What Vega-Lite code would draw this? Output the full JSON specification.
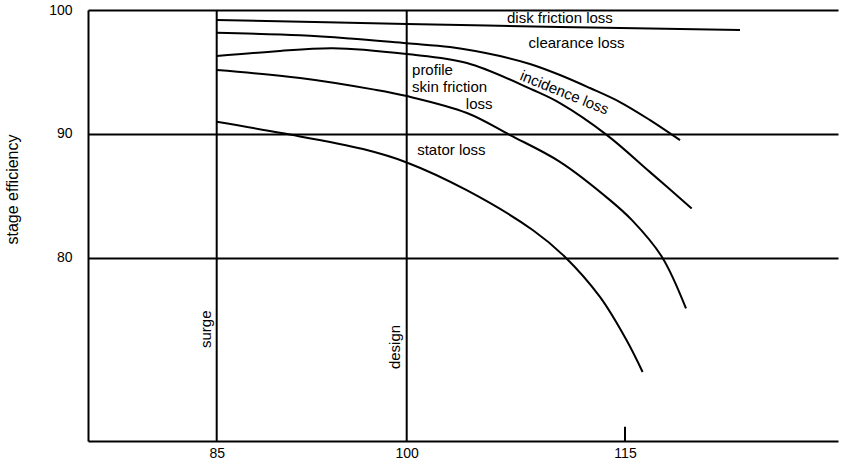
{
  "$schema": "https://vega.github.io/schema/vega-lite/v6.json",
  "width": 750,
  "height": 431,
  "autosize": {"type": "none"},
  "padding": {"left": 88, "top": 10, "right": 5, "bottom": 25},
  "background": "white",
  "config": {
    "view": {"stroke": null},
    "font": "Liberation Sans",
    "text": {"font": "Liberation Sans", "fontSize": 15, "color": "black"}
  },
  "datasets": {
    "curves": [
      {"series": "disk friction", "flow": 85, "eff": 99.19},
      {"series": "disk friction", "flow": 100, "eff": 98.87},
      {"series": "disk friction", "flow": 110.53, "eff": 98.63},
      {"series": "disk friction", "flow": 122.9, "eff": 98.38},
      {"series": "clearance", "flow": 85, "eff": 98.17},
      {"series": "clearance", "flow": 91.58, "eff": 97.96},
      {"series": "clearance", "flow": 95.5, "eff": 97.7},
      {"series": "clearance", "flow": 100, "eff": 97.31},
      {"series": "clearance", "flow": 102.97, "eff": 97.01},
      {"series": "clearance", "flow": 106.41, "eff": 96.28},
      {"series": "clearance", "flow": 108.47, "eff": 95.64},
      {"series": "clearance", "flow": 110.53, "eff": 94.75},
      {"series": "clearance", "flow": 112.59, "eff": 93.7},
      {"series": "clearance", "flow": 114.65, "eff": 92.57},
      {"series": "clearance", "flow": 116.72, "eff": 91.11},
      {"series": "clearance", "flow": 118.78, "eff": 89.49},
      {"series": "incidence", "flow": 85, "eff": 96.28},
      {"series": "incidence", "flow": 89.5, "eff": 96.65},
      {"series": "incidence", "flow": 94.18, "eff": 96.91},
      {"series": "incidence", "flow": 100, "eff": 96.44},
      {"series": "incidence", "flow": 104.14, "eff": 95.72},
      {"series": "incidence", "flow": 108.68, "eff": 93.54},
      {"series": "incidence", "flow": 110.53, "eff": 92.48},
      {"series": "incidence", "flow": 113.76, "eff": 89.9},
      {"series": "incidence", "flow": 116.72, "eff": 86.91},
      {"series": "incidence", "flow": 119.58, "eff": 83.98},
      {"series": "profile", "flow": 85, "eff": 95.15},
      {"series": "profile", "flow": 91.58, "eff": 94.51},
      {"series": "profile", "flow": 97.34, "eff": 93.59},
      {"series": "profile", "flow": 100, "eff": 93.05},
      {"series": "profile", "flow": 104.14, "eff": 91.68},
      {"series": "profile", "flow": 107.1, "eff": 89.9},
      {"series": "profile", "flow": 110.53, "eff": 87.74},
      {"series": "profile", "flow": 113.97, "eff": 84.65},
      {"series": "profile", "flow": 115.48, "eff": 83.03},
      {"series": "profile", "flow": 117.54, "eff": 80.06},
      {"series": "profile", "flow": 119.19, "eff": 75.9},
      {"series": "stator", "flow": 85, "eff": 90.97},
      {"series": "stator", "flow": 90.23, "eff": 90.04},
      {"series": "stator", "flow": 96.55, "eff": 88.77},
      {"series": "stator", "flow": 100, "eff": 87.69},
      {"series": "stator", "flow": 104.12, "eff": 85.45},
      {"series": "stator", "flow": 108.68, "eff": 82.22},
      {"series": "stator", "flow": 110.88, "eff": 80.06},
      {"series": "stator", "flow": 113.28, "eff": 76.83},
      {"series": "stator", "flow": 115.11, "eff": 73.33},
      {"series": "stator", "flow": 116.21, "eff": 70.77}
    ],
    "markers": [
      {"name": "surge", "flow": 85, "eff": 65.2, "eff2": 100},
      {"name": "design", "flow": 100, "eff": 65.2, "eff2": 100},
      {"name": "tick 115", "flow": 115, "eff": 65.2, "eff2": 66.35}
    ],
    "labels": [
      {"label": "disk friction loss", "flow": 110.53, "eff": 99.33},
      {"label": "clearance loss", "flow": 111.67, "eff": 97.37},
      {"label": "profile", "flow": 101.77, "eff": 95.19},
      {"label": "skin friction", "flow": 102.95, "eff": 93.8},
      {"label": "loss", "flow": 104.98, "eff": 92.39},
      {"label": "stator loss", "flow": 103.07, "eff": 88.66}
    ],
    "slanted": [
      {"label": "incidence loss", "flow": 110.84, "eff": 93.33}
    ],
    "vertical": [
      {"label": "surge", "flow": 84.14, "eff": 74.22},
      {"label": "design", "flow": 99.1, "eff": 72.79}
    ]
  },
  "encoding": {
    "x": {
      "field": "flow",
      "type": "quantitative",
      "scale": {
        "type": "linear",
        "domain": [74.84, 85, 100, 115, 129.63],
        "range": [0, 128.7, 318.7, 537, 750],
        "nice": false,
        "zero": false
      },
      "axis": {
        "values": [85, 100, 115],
        "ticks": false,
        "grid": false,
        "domainColor": "black",
        "domainWidth": 2,
        "labelColor": "black",
        "labelFontSize": 14,
        "labelPadding": 5,
        "labelFont": "Liberation Sans",
        "title": null
      }
    },
    "y": {
      "field": "eff",
      "type": "quantitative",
      "scale": {"domain": [65.2, 100], "nice": false, "zero": false},
      "axis": {
        "values": [80, 90, 100],
        "ticks": false,
        "grid": true,
        "gridColor": "black",
        "gridWidth": 1.8,
        "gridOpacity": 1,
        "domainColor": "black",
        "domainWidth": 2,
        "labelColor": "black",
        "labelFontSize": 14,
        "labelPadding": 16,
        "labelFont": "Liberation Sans",
        "title": "stage efficiency",
        "titleFont": "Liberation Sans",
        "titleFontSize": 16,
        "titleFontWeight": "normal",
        "titleColor": "black",
        "titleX": -76,
        "titleY": 179,
        "titleAngle": 270,
        "titleAlign": "center",
        "titleBaseline": "middle"
      }
    }
  },
  "layer": [
    {
      "data": {"name": "markers"},
      "mark": {"type": "rule", "color": "black", "strokeWidth": 2},
      "encoding": {"y2": {"field": "eff2"}}
    },
    {
      "data": {"name": "curves"},
      "mark": {"type": "line", "color": "black", "strokeWidth": 2, "interpolate": "catmull-rom"},
      "encoding": {"detail": {"field": "series", "type": "nominal"}}
    },
    {
      "data": {"name": "labels"},
      "mark": {"type": "text", "align": "center", "baseline": "middle", "fontSize": 15, "color": "black"},
      "encoding": {"text": {"field": "label", "type": "nominal"}}
    },
    {
      "data": {"name": "slanted"},
      "mark": {"type": "text", "align": "center", "baseline": "middle", "fontSize": 15, "angle": 22, "color": "black"},
      "encoding": {"text": {"field": "label", "type": "nominal"}}
    },
    {
      "data": {"name": "vertical"},
      "mark": {"type": "text", "align": "center", "baseline": "middle", "fontSize": 15, "angle": 270, "color": "black"},
      "encoding": {"text": {"field": "label", "type": "nominal"}}
    }
  ]
}
